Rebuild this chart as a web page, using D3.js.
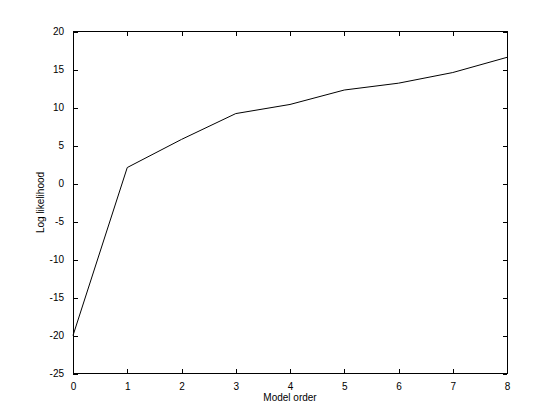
<!DOCTYPE html>
<html>
<head>
<meta charset="UTF-8">
<script src="https://d3js.org/d3.v7.min.js"></script>
<style>
  body, html { margin: 0; padding: 0; background: #fff; overflow: hidden; }
  svg text { font-family: "Liberation Sans", Arial, Helvetica, sans-serif; font-size: 10px; fill: #000; }
</style>
</head>
<body>
<div id="chart"></div>
<script>
// model order vs log likelihood
var orders = [0, 1, 2, 3, 4, 5, 6, 7, 8];
var logLik = [-20, 2.1, 5.8, 9.2, 10.4, 12.3, 13.2, 14.6, 16.6];
var xTicks = [0, 1, 2, 3, 4, 5, 6, 7, 8];
var yTicks = [-25, -20, -15, -10, -5, 0, 5, 10, 15, 20];

var W = 560, H = 420;
var margin = { top: 31.5, right: 53, bottom: 46.5, left: 73 };
var width = W - margin.left - margin.right,
    height = H - margin.top - margin.bottom;

var svg = d3.select("#chart").append("svg")
    .attr("width", W)
    .attr("height", H);

var g = svg.append("g")
    .attr("transform", `translate(${margin.left},${margin.top})`);

var x = d3.scaleLinear().domain([0, 8]).range([0, width]);
var y = d3.scaleLinear().domain([-25, 20]).range([height, 0]);

var tick = 4.5;
var plain = function (d) { return String(d); }; // ascii hyphen like matlab

// box
g.append("rect")
    .attr("x", 0).attr("y", 0)
    .attr("width", width).attr("height", height)
    .attr("fill", "none").attr("stroke", "#000").attr("stroke-width", 1)
    .attr("shape-rendering", "crispEdges");

// bottom and top axes (inward ticks)
var xb = g.append("g")
    .attr("transform", `translate(0,${height})`)
    .call(d3.axisBottom(x).tickValues(xTicks).tickFormat(plain).tickSizeInner(-tick).tickSizeOuter(0).tickPadding(9));
var xt = g.append("g")
    .call(d3.axisTop(x).tickValues(xTicks).tickSizeInner(-tick).tickSizeOuter(0).tickFormat(""));

// left and right axes
var yl = g.append("g")
    .call(d3.axisLeft(y).tickValues(yTicks).tickFormat(plain).tickSizeInner(-tick).tickSizeOuter(0).tickPadding(9));
var yr = g.append("g")
    .attr("transform", `translate(${width},0)`)
    .call(d3.axisRight(y).tickValues(yTicks).tickSizeInner(-tick).tickSizeOuter(0).tickFormat(""));

[xb, xt, yl, yr].forEach(function (a) {
    a.select(".domain").remove();
    a.selectAll("line").attr("stroke", "#000").attr("shape-rendering", "crispEdges");
    a.selectAll("text").attr("font-size", 10).attr("font-family", null);
});

// data line
g.append("path")
    .datum(orders.map(function (d, i) { return [d, logLik[i]]; }))
    .attr("fill", "none")
    .attr("stroke", "#000")
    .attr("stroke-width", 1)
    .attr("d", d3.line()
        .x(function (d) { return x(d[0]); })
        .y(function (d) { return y(d[1]); }));

// labels
svg.append("text")
    .attr("x", margin.left + width / 2)
    .attr("y", 401)
    .attr("text-anchor", "middle")
    .text("Model order");

svg.append("text")
    .attr("transform", `translate(44,${margin.top + height / 2}) rotate(-90)`)
    .attr("text-anchor", "middle")
    .text("Log likelihood");
</script>
</body>
</html>
